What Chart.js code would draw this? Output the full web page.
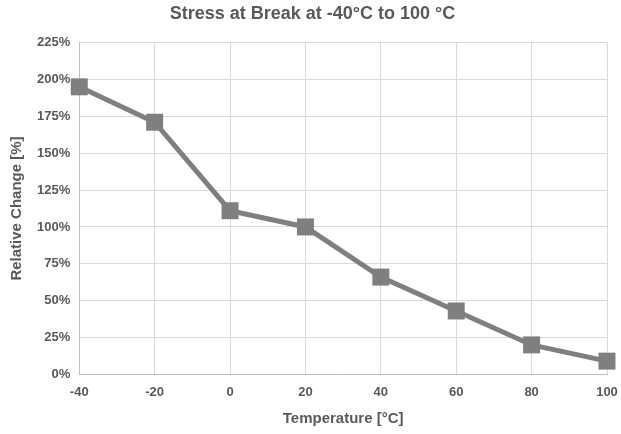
<!DOCTYPE html>
<html>
<head>
<meta charset="utf-8">
<script src="https://cdn.jsdelivr.net/npm/chart.js@4/dist/chart.umd.min.js"></script>
<style>
  html, body { margin: 0; padding: 0; background: #fff; }
  #wrap { width: 621px; height: 434px; }
</style>
</head>
<body>
<div id="wrap"><canvas id="stressChart" width="621" height="434"></canvas></div>
<script>
// values
const temperatures = [-40, -20, 0, 20, 40, 60, 80, 100];
const relativeChange = [195, 171, 111, 100, 66, 43, 20, 9];
const yTicks = [0, 25, 50, 75, 100, 125, 150, 175, 200, 225];
const xTicks = [-40, -20, 0, 20, 40, 60, 80, 100];

const textGrey = '#595959';
const fontFamily = '"Liberation Sans", Arial, sans-serif';

const ctx = document.getElementById('stressChart').getContext('2d');
window.stressChart = new Chart(ctx, {
    type: 'line',
    data: {
        datasets: [{
            label: 'Stress at Break',
            data: temperatures.map((t, i) => ({ x: t, y: relativeChange[i] })),
            borderColor: '#7f7f7f',
            backgroundColor: '#7f7f7f',
            borderWidth: 5,
            pointStyle: 'rect',
            pointRadius: 12,
            pointBorderWidth: 0,
            tension: 0,
            clip: false
        }]
    },
    options: {
        responsive: false,
        animation: false,
        layout: { padding: { top: 2, right: 0, left: 4, bottom: 1 } },
        plugins: {
            legend: { display: false },
            tooltip: { enabled: false },
            title: {
                display: true,
                text: 'Stress at Break at -40°C to 100 °C',
                color: textGrey,
                font: { family: fontFamily, size: 18, weight: 'bold' },
                padding: { top: 1, bottom: 18 }
            }
        },
        scales: {
            x: {
                type: 'linear',
                min: -40,
                max: 100,
                afterBuildTicks: axis => { axis.ticks = xTicks.map(v => ({ value: v })); },
                // keep the plot edges where the reference has them
                afterFit: axis => { axis.paddingRight = 14; axis.paddingLeft = 0; },
                ticks: {
                    color: textGrey,
                    font: { family: fontFamily, size: 13, weight: 'bold' },
                    padding: 10
                },
                grid: { color: '#d9d9d9', lineWidth: 1, drawTicks: false },
                border: { color: '#bfbfbf', width: 1 },
                title: {
                    display: true,
                    text: 'Temperature [°C]',
                    color: textGrey,
                    font: { family: fontFamily, size: 15, weight: 'bold' },
                    padding: { top: 0, bottom: 5 }
                }
            },
            y: {
                min: 0,
                max: 225,
                afterBuildTicks: axis => { axis.ticks = yTicks.map(v => ({ value: v })); },
                ticks: {
                    color: textGrey,
                    font: { family: fontFamily, size: 13, weight: 'bold' },
                    padding: 9,
                    callback: v => v + '%'
                },
                grid: { color: '#d9d9d9', lineWidth: 1, drawTicks: false },
                border: { color: '#bfbfbf', width: 1 },
                title: {
                    display: true,
                    text: 'Relative Change [%]',
                    color: textGrey,
                    font: { family: fontFamily, size: 15, weight: 'bold' },
                    padding: { bottom: 2 }
                }
            }
        }
    }
});
</script>
</body>
</html>
